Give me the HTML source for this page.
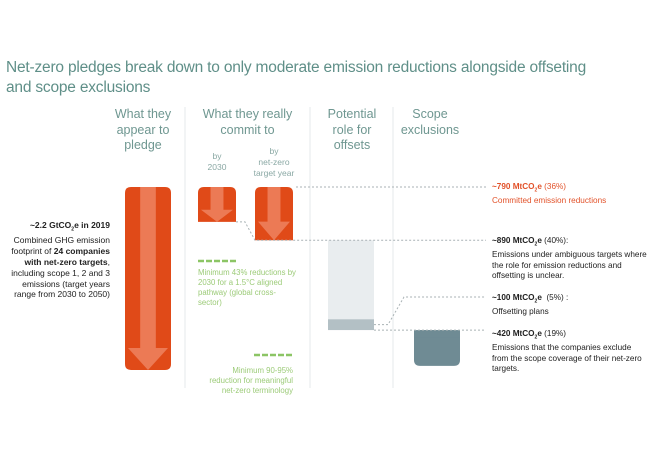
<!DOCTYPE html>
<html><head><meta charset="utf-8"><style>
html,body{margin:0;padding:0;background:#fff;}
body{width:650px;height:450px;overflow:hidden;position:relative;font-family:"Liberation Sans",sans-serif;}
svg{position:absolute;left:0;top:0;}
.t{position:absolute;}
.title{left:6px;top:58px;font-family:"Liberation Sans Narrow","Liberation Sans",sans-serif;font-size:15.5px;color:#5f8f88;line-height:20px;letter-spacing:-0.2px;}
.hd{font-family:"Liberation Sans Narrow","Liberation Sans",sans-serif;font-size:12.5px;color:#6f9791;text-align:center;line-height:15.5px;}
.sub{font-size:8.5px;color:#8aa8a4;text-align:center;line-height:11px;}
.lab{font-size:8.2px;color:#222;line-height:10.5px;}
.red{color:#e2522a;}
.grn{font-size:7.8px;color:#9ccb78;line-height:10px;}
</style></head><body>
<div class="t title">Net-zero pledges break down to only moderate emission reductions alongside offseting<br>and scope exclusions</div>
<div class="t hd" style="left:103px;top:107px;width:80px">What they<br>appear to<br>pledge</div>
<div class="t hd" style="left:190px;top:107px;width:115px">What they really<br>commit to</div>
<div class="t hd" style="left:312px;top:107px;width:80px">Potential<br>role for<br>offsets</div>
<div class="t hd" style="left:390px;top:107px;width:80px">Scope<br>exclusions</div>
<div class="t sub" style="left:195px;top:151px;width:44px">by<br>2030</div>
<div class="t sub" style="left:244px;top:146px;width:60px">by<br>net-zero<br>target year</div>

<div class="t lab" style="left:10px;top:220px;width:100px;text-align:right;font-size:8.5px;line-height:10.8px"><b>~2.2 GtCO<sub style="font-size:5px">2</sub>e in 2019</b><br>Combined GHG emission footprint of <b>24 companies with net-zero targets</b>, including scope 1, 2 and 3 emissions (target years range from 2030 to 2050)</div>

<div class="t lab red" style="left:492px;top:182px"><b>~790 MtCO<sub style="font-size:5px">2</sub>e</b> (36%)<br>Committed emission reductions</div>
<div class="t lab" style="left:492px;top:236px;width:160px"><b>~890 MtCO<sub style="font-size:5px">2</sub>e</b> (40%):<br>Emissions under ambiguous targets where the role for emission reductions and offsetting is unclear.</div>
<div class="t lab" style="left:492px;top:293px"><b>~100 MtCO<sub style="font-size:5px">2</sub>e</b> &nbsp;(5%) :<br>Offsetting plans</div>
<div class="t lab" style="left:492px;top:329px;width:150px"><b>~420 MtCO<sub style="font-size:5px">2</sub>e</b> (19%)<br>Emissions that the companies exclude from the scope coverage of their net-zero targets.</div>

<div class="t grn" style="left:198px;top:268px;width:100px">Minimum 43% reductions by 2030 for a 1.5°C aligned pathway (global cross-sector)</div>
<div class="t grn" style="left:200px;top:366px;width:93px;text-align:right">Minimum 90-95% reduction for meaningful net-zero terminology</div>

<svg id="chart" width="650" height="450"></svg>
<script>
const categories = ["total", "by2030", "netZero", "ambiguous", "offsets", "scope"];
const valuesMt = [2200, 420, 640, 950, 130, 430];
const ns = "http://www.w3.org/2000/svg";
const svg = document.getElementById("chart");
const top0 = 187;
const k = 183 / valuesMt[0];
function y(v){ return top0 + v * k; }
function h(v){ return v * k; }
function mk(tag, attrs, name){
  const e = document.createElementNS(ns, tag);
  for (const a in attrs) e.setAttribute(a, attrs[a]);
  
  
  svg.appendChild(e);
  return e;
}
// separators
[185, 310, 393].forEach((x,i)=>{ mk('line',{x1:x,y1:107,x2:x,y2:388,stroke:'#e6eaeb','stroke-width':1},'column-separator'); });
function roundTop(x,w,y0,y1,r){ return `M${x},${y1} L${x},${y0+r} Q${x},${y0} ${x+r},${y0} L${x+w-r},${y0} Q${x+w},${y0} ${x+w},${y0+r} L${x+w},${y1} Z`; }
function roundAll(x,w,y0,y1,r){ return `M${x+r},${y0} L${x+w-r},${y0} Q${x+w},${y0} ${x+w},${y0+r} L${x+w},${y1-r} Q${x+w},${y1} ${x+w-r},${y1} L${x+r},${y1} Q${x},${y1} ${x},${y1-r} L${x},${y0+r} Q${x},${y0} ${x+r},${y0} Z`; }
function arrowBar(x,w,v,name,all){
  const y1 = y(v);
  mk('path',{d: all?roundAll(x,w,top0,y1,6):roundTop(x,w,top0,y1,6), fill:'#e04a18'}, name);
  const cx = x + w/2, sw = w*0.34, hh = Math.min(22, (y1-top0)*0.35);
  mk('path',{d:`M${cx-sw/2},${top0} L${cx+sw/2},${top0} L${cx+sw/2},${y1-hh} L${x+w-3},${y1-hh} L${cx},${y1} L${x+3},${y1-hh} L${cx-sw/2},${y1-hh} Z`, fill:'#ec7a55'}, name+'-arrow');
}
arrowBar(125, 46, valuesMt[0], 'bar-total', true);
arrowBar(198, 38, valuesMt[1], 'bar-by-2030', false);
arrowBar(255, 38, valuesMt[2], 'bar-net-zero', false);
// offsets
const ya = y(valuesMt[2]), yb = ya + h(valuesMt[3]), yc = yb + h(valuesMt[4]);
mk('rect',{x:328,y:ya,width:46,height:yb-ya,fill:'#e9edef'},'bar-ambiguous');
mk('rect',{x:328,y:yb,width:46,height:yc-yb,fill:'#b3c0c5'},'bar-offsets');
mk('path',{d:roundAll(414,46,yc,yc+h(valuesMt[5]),6).replace(/^/,''),fill:'#6f8b94'},'bar-scope-exclusions');
mk('rect',{x:414,y:yc,width:46,height:7,fill:'#6f8b94'},'bar-scope-top');
// dotted leaders
const dot = {stroke:'#a9b2b5','stroke-width':1,'stroke-dasharray':'2,2',fill:'none'};
mk('path',Object.assign({d:`M296,${top0} L486,${top0}`},dot),'leader-committed');
mk('path',Object.assign({d:`M236,${y(valuesMt[1])} L245,${y(valuesMt[1])} L255,${ya} L486,${ya}`},dot),'leader-ambiguous');
mk('path',Object.assign({d:`M374,${(yb+yc)/2} L388,${(yb+yc)/2} L404,297 L486,297`},dot),'leader-offsetting');
mk('path',Object.assign({d:`M374,${yc} L486,${yc}`},dot),'leader-scope');
// green dashes
mk('line',{x1:198,y1:261,x2:238,y2:261,stroke:'#8cc565','stroke-width':2.5,'stroke-dasharray':'6,2'},'benchmark-43-dash');
mk('line',{x1:254,y1:355,x2:294,y2:355,stroke:'#8cc565','stroke-width':2.5,'stroke-dasharray':'6,2'},'benchmark-90-dash');
</script>
</body></html>
